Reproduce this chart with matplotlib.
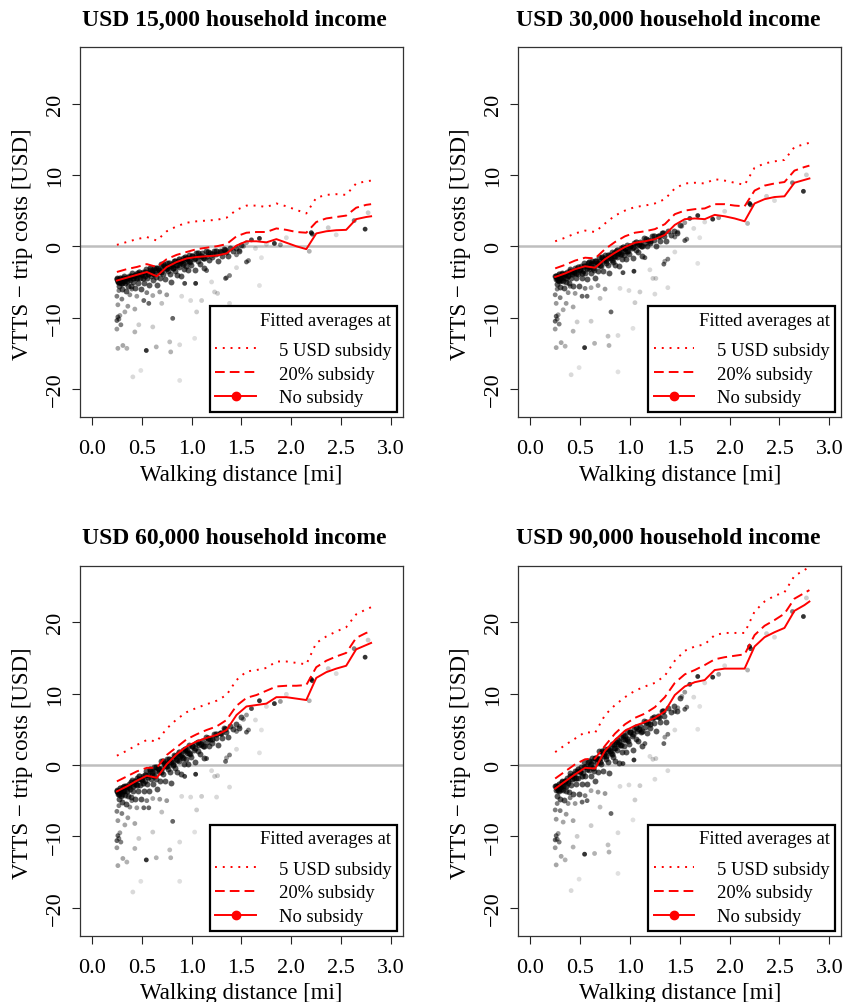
import matplotlib
matplotlib.use("Agg")
import matplotlib.pyplot as plt
from matplotlib.lines import Line2D

plt.rcParams['font.family'] = ['Liberation Serif', 'DejaVu Serif']
plt.rcParams['axes.unicode_minus'] = True

# ---------------- data ----------------
panel_titles = ["USD 15,000 household income", "USD 30,000 household income",
                "USD 60,000 household income", "USD 90,000 household income"]

x_ticks = [0.0, 0.5, 1.0, 1.5, 2.0, 2.5, 3.0]
x_tick_labels = ["0.0", "0.5", "1.0", "1.5", "2.0", "2.5", "3.0"]
y_ticks = [-20, -10, 0, 10, 20]

fit_x = [0.25, 0.35, 0.45, 0.55, 0.65, 0.75, 0.85, 0.95, 1.05, 1.15, 1.25, 1.35, 1.45,
         1.55, 1.65, 1.75, 1.85, 1.95, 2.05, 2.15, 2.25, 2.35, 2.45, 2.55, 2.65, 2.75, 2.80]

# fitted averages: no subsidy / 20% subsidy / 5 USD subsidy
fit_none_15k = [-4.8, -4.4, -4.0, -3.6, -4.2, -2.9, -2.2, -1.7, -1.5, -1.4, -1.3, -1.0, 0.1,
                0.7, 0.7, 0.55, 1.0, 0.5, 0.0, -0.4, 1.8, 2.1, 2.25, 2.3, 3.8, 4.1, 4.2]
fit_pct_15k = [-3.6, -3.2, -2.9, -2.5, -2.9, -1.8, -1.2, -0.8, -0.4, -0.2, 0.0, 0.3, 1.4,
               1.9, 2.0, 2.0, 2.5, 2.3, 2.0, 1.9, 3.4, 3.9, 4.1, 4.3, 5.4, 5.8, 5.9]
fit_usd_15k = [0.2, 0.6, 1.0, 1.3, 0.8, 2.1, 2.8, 3.3, 3.5, 3.6, 3.7, 4.0, 5.1,
               5.7, 5.7, 5.5, 6.0, 5.6, 5.1, 4.6, 6.8, 7.2, 7.3, 7.2, 8.8, 9.1, 9.2]

fit_none_30k = [-4.3, -3.8, -3.2, -2.8, -3.0, -1.8, -0.9, -0.1, 0.5, 0.7, 1.0, 1.6, 3.0,
                3.8, 3.9, 3.8, 4.4, 4.2, 3.9, 3.5, 6.0, 6.6, 6.9, 7.0, 8.9, 9.3, 9.5]
fit_pct_30k = [-3.1, -2.6, -2.0, -1.6, -1.7, -0.4, 0.6, 1.4, 1.9, 2.1, 2.4, 3.1, 4.5,
               5.0, 5.2, 5.3, 5.9, 5.9, 5.7, 5.6, 7.8, 8.5, 8.8, 9.0, 10.6, 11.1, 11.3]
fit_usd_30k = [0.7, 1.2, 1.8, 2.2, 2.0, 3.2, 4.3, 5.0, 5.5, 5.7, 6.0, 6.6, 8.1,
               8.8, 8.9, 8.8, 9.4, 9.2, 8.9, 8.6, 11.0, 11.6, 11.9, 12.1, 13.9, 14.3, 14.5]

fit_none_60k = [-3.7, -3.0, -2.2, -1.5, -1.8, 0.1, 1.5, 2.6, 3.3, 3.8, 4.2, 4.9, 7.0,
                8.2, 8.4, 8.6, 9.5, 9.5, 9.3, 9.1, 12.2, 13.0, 13.5, 13.9, 16.2, 16.8, 17.1]
fit_pct_60k = [-2.3, -1.6, -0.9, -0.4, -0.4, 1.4, 2.5, 3.6, 4.3, 4.9, 5.4, 6.3, 8.3,
               9.4, 9.8, 10.4, 11.0, 11.1, 11.1, 11.2, 13.7, 14.6, 15.2, 15.7, 17.8, 18.5, 18.7]
fit_usd_60k = [1.3, 2.0, 2.8, 3.5, 3.3, 5.1, 6.4, 7.4, 8.0, 8.5, 9.0, 9.8, 11.9,
               13.1, 13.3, 13.6, 14.5, 14.5, 14.3, 14.1, 17.1, 18.0, 18.7, 19.3, 21.1, 21.8, 22.1]

fit_none_90k = [-3.3, -2.3, -1.3, -0.4, -0.5, 2.0, 3.5, 4.8, 5.5, 6.0, 6.6, 7.5, 9.8,
                11.0, 11.6, 11.9, 13.3, 13.5, 13.5, 13.5, 16.6, 17.9, 18.6, 19.2, 21.6, 22.4, 22.9]
fit_pct_90k = [-1.9, -0.9, 0.1, 0.8, 0.9, 2.7, 4.4, 5.7, 6.6, 7.2, 8.1, 9.5, 11.5,
               12.7, 13.3, 14.0, 14.8, 15.1, 15.3, 15.5, 18.2, 19.5, 20.3, 21.2, 23.3, 24.1, 24.5]
fit_usd_90k = [1.8, 2.8, 3.7, 4.6, 4.5, 7.0, 8.4, 9.5, 10.4, 11.0, 11.5, 12.5, 14.6,
               16.0, 16.6, 16.9, 18.2, 18.5, 18.5, 18.5, 21.5, 22.9, 23.7, 24.2, 26.5, 27.3, 27.8]

# individual observations (main cloud)
band_x = [0.25, 0.26, 0.27, 0.28, 0.29, 0.30, 0.31, 0.32, 0.33, 0.34,
          0.35, 0.36, 0.37, 0.38, 0.39, 0.40, 0.41, 0.42, 0.43, 0.44,
          0.45, 0.46, 0.47, 0.48, 0.49, 0.50, 0.51, 0.52, 0.53, 0.54,
          0.55, 0.56, 0.57, 0.58, 0.59, 0.60, 0.61, 0.62, 0.63, 0.64,
          0.65, 0.66, 0.67, 0.68, 0.69, 0.70, 0.71, 0.72, 0.73, 0.74,
          0.75, 0.76, 0.77, 0.78, 0.79, 0.80, 0.81, 0.82, 0.83, 0.84,
          0.85, 0.86, 0.87, 0.88, 0.89, 0.90, 0.91, 0.92, 0.93, 0.94,
          0.95, 0.96, 0.97, 0.98, 0.99, 1.00, 1.02, 1.03, 1.04, 1.06,
          1.07, 1.08, 1.10, 1.11, 1.12, 1.14, 1.15, 1.17, 1.18, 1.20,
          1.22, 1.24, 1.26, 1.28, 1.30, 1.32, 1.34, 1.36, 1.38, 1.41,
          1.44, 1.47, 1.50]
band_y_15k = [-4.5, -5.0, -5.6, -4.6, -5.2, -6.0, -4.7, -4.2, -5.2, -6.2,
              -4.5, -5.5, -4.2, -4.7, -5.6, -3.8, -5.0, -4.2, -5.9, -4.4,
              -3.7, -5.1, -3.9, -4.5, -6.0, -4.0, -3.6, -5.1, -4.2, -3.2,
              -4.5, -3.7, -5.4, -3.3, -4.1, -3.8, -4.7, -3.0, -3.3, -4.3,
              -5.4, -3.1, -3.6, -4.5, -2.5, -3.2, -3.9, -2.7, -4.6, -3.2,
              -2.4, -3.5, -2.7, -3.9, -5.0, -2.5, -3.0, -2.0, -3.5, -2.6,
              -4.0, -2.0, -2.9, -2.2, -4.2, -2.4, -1.6, -3.2, -1.8, -2.7,
              -2.0, -3.3, -1.2, -2.2, -2.6, -1.3, -1.8, -3.3, -1.0, -2.1,
              -1.4, -2.5, -1.0, -1.7, -3.1, -0.7, -1.3, -1.9, -0.9, -1.5,
              -0.6, -1.1, -2.0, -0.7, -1.3, -0.4, -0.8, -1.4, -0.3, -0.7,
              -0.3, -0.7, 0.2]
band_y_30k = [-4.1, -4.6, -5.3, -4.2, -4.9, -5.7, -4.3, -3.7, -4.8, -5.9,
              -3.9, -5.0, -3.6, -4.2, -5.2, -3.2, -4.4, -3.6, -5.5, -3.8,
              -3.0, -4.5, -3.2, -3.9, -5.5, -3.3, -2.8, -4.5, -3.4, -2.4,
              -3.7, -2.8, -4.6, -2.4, -3.2, -2.9, -3.8, -2.0, -2.4, -3.3,
              -4.4, -2.1, -2.6, -3.5, -1.5, -2.1, -2.8, -1.6, -3.5, -2.0,
              -1.2, -2.3, -1.6, -2.6, -3.7, -1.2, -1.7, -0.8, -2.2, -1.3,
              -2.6, -0.7, -1.5, -0.9, -2.8, -1.1, -0.3, -1.8, -0.4, -1.2,
              -0.6, -1.8, 0.2, -0.7, -1.1, 0.1, -0.3, -1.7, 0.5, -0.5,
              0.2, -0.8, 0.6, 0.0, -1.4, 1.1, 0.5, 0.0, 0.9, 0.4,
              1.4, 0.9, 0.0, 1.4, 0.8, 1.9, 1.4, 0.8, 2.1, 1.6,
              2.2, 1.8, 3.0]
band_y_60k = [-3.5, -4.1, -4.8, -3.5, -4.3, -5.2, -3.6, -2.9, -4.2, -5.4,
              -3.1, -4.4, -2.6, -3.4, -4.5, -2.1, -3.6, -2.6, -4.8, -2.7,
              -1.8, -3.6, -2.0, -2.8, -4.8, -2.1, -1.5, -3.6, -2.2, -0.9,
              -2.6, -1.4, -3.7, -0.9, -1.9, -1.4, -2.6, -0.3, -0.8, -2.0,
              -3.4, -0.4, -1.0, -2.2, 0.5, -0.4, -1.3, 0.3, -2.2, -0.2,
              0.8, -0.6, 0.4, -1.0, -2.5, 0.8, 0.2, 1.4, -0.4, 0.8,
              -1.0, 1.5, 0.5, 1.3, -1.2, 1.1, 2.1, 0.2, 1.9, 0.9,
              1.7, 0.1, 2.8, 1.6, 1.1, 2.6, 2.1, 0.4, 3.1, 1.9,
              2.8, 1.5, 3.3, 2.6, 1.0, 3.9, 3.2, 2.6, 3.7, 3.1,
              4.3, 3.8, 2.8, 4.5, 3.8, 5.2, 4.6, 3.9, 5.5, 5.0,
              5.8, 5.2, 6.7]
band_y_90k = [-2.9, -3.5, -4.3, -2.9, -3.7, -4.7, -2.9, -2.2, -3.5, -4.9,
              -2.3, -3.7, -1.8, -2.5, -3.8, -1.1, -2.8, -1.6, -4.1, -1.8,
              -0.8, -2.7, -0.9, -1.8, -4.1, -1.0, -0.3, -2.6, -1.1, 0.4,
              -1.5, -0.2, -2.7, 0.4, -0.7, -0.2, -1.5, 1.0, 0.5, -0.8,
              -2.3, 1.0, 0.3, -1.0, 1.9, 1.0, 0.1, 1.8, -0.9, 1.2,
              2.3, 0.8, 1.9, 0.4, -1.1, 2.4, 1.7, 3.0, 1.1, 2.4,
              0.5, 3.2, 2.1, 3.0, 0.3, 2.8, 3.9, 1.8, 3.7, 2.6,
              3.5, 1.8, 4.7, 3.4, 2.9, 4.6, 4.0, 2.1, 5.1, 3.7,
              4.8, 3.3, 5.4, 4.6, 2.6, 6.1, 5.3, 4.5, 5.9, 5.2,
              6.6, 5.9, 4.7, 6.8, 6.0, 7.6, 6.9, 6.0, 8.0, 7.4,
              8.3, 7.6, 9.4]

# individual observations (densest part just under the fitted line)
core_x = [0.255, 0.265, 0.275, 0.285, 0.295, 0.305, 0.315, 0.325, 0.345, 0.355,
          0.375, 0.395, 0.415, 0.435, 0.455, 0.475, 0.495, 0.515, 0.535, 0.565,
          0.585, 0.605, 0.625, 0.645, 0.675, 0.695, 0.715, 0.735, 0.755, 0.775,
          0.795, 0.815, 0.835, 0.855, 0.875, 0.895, 0.915, 0.935, 0.955, 0.975,
          1.005, 1.035, 1.065, 1.095, 1.125, 1.165, 1.205, 1.245, 1.29, 1.33]
core_y_15k = [-4.6, -4.8, -5.0, -4.4, -4.8, -5.1, -4.4, -4.8, -4.4, -4.9,
              -4.5, -4.1, -4.5, -4.0, -4.5, -3.6, -3.9, -4.4, -3.6, -3.9,
              -3.1, -3.5, -3.9, -3.0, -3.3, -3.6, -2.5, -2.9, -3.1, -2.4,
              -2.8, -3.1, -2.1, -2.6, -1.8, -2.1, -2.5, -1.5, -1.7, -2.0,
              -1.3, -1.6, -1.0, -1.3, -1.6, -0.8, -1.1, -0.6, -0.8, -0.5]
core_y_30k = [-4.2, -4.4, -4.7, -3.9, -4.4, -4.7, -3.9, -4.3, -3.9, -4.4,
              -4.0, -3.5, -3.9, -3.4, -3.8, -2.9, -3.2, -3.7, -2.8, -3.1,
              -2.2, -2.5, -3.0, -2.0, -2.3, -2.6, -1.5, -1.8, -1.9, -1.2,
              -1.5, -1.9, -0.9, -1.3, -0.5, -0.8, -1.1, -0.1, -0.3, -0.6,
              0.1, -0.1, 0.6, 0.3, 0.1, 1.0, 0.8, 1.4, 1.4, 1.8]
core_y_60k = [-3.6, -3.8, -4.1, -3.2, -3.7, -4.0, -3.1, -3.6, -3.0, -3.7,
              -3.1, -2.4, -2.9, -2.3, -2.8, -1.6, -2.0, -2.5, -1.4, -1.7,
              -0.6, -1.0, -1.6, -0.3, -0.6, -1.0, 0.5, 0.1, -0.1, 0.8,
              0.4, 0.0, 1.3, 0.7, 1.8, 1.4, 1.0, 2.3, 2.1, 1.7,
              2.7, 2.4, 3.2, 3.0, 2.7, 3.8, 3.6, 4.4, 4.5, 5.1]
core_y_90k = [-3.0, -3.2, -3.5, -2.6, -3.1, -3.4, -2.4, -2.9, -2.2, -2.9,
              -2.3, -1.5, -2.0, -1.3, -1.8, -0.5, -0.9, -1.5, -0.3, -0.6,
              0.6, 0.2, -0.4, 1.0, 0.8, 0.4, 1.9, 1.6, 1.3, 2.3,
              2.0, 1.6, 3.0, 2.4, 3.5, 3.2, 2.8, 4.2, 4.0, 3.6,
              4.6, 4.3, 5.3, 5.0, 4.7, 6.0, 5.7, 6.7, 6.7, 7.5]

# individual observations (sparse, with observation weights)
extra_x = [0.25, 0.26, 0.27, 0.28, 0.25, 0.26, 0.31, 0.35, 0.43, 0.43,
           0.47, 0.545, 0.41, 0.49, 0.88, 0.645, 0.61, 0.78, 0.79, 0.88,
           0.81, 1.03, 1.05, 0.68, 0.93, 1.04, 0.99, 1.10, 1.34, 1.38,
           1.23, 1.26, 0.61, 0.57, 0.36, 0.40, 0.30, 1.68, 1.38, 1.35,
           1.55, 1.57, 1.25, 0.33, 0.52, 0.70, 1.15, 0.25, 0.26, 0.27,
           0.29, 0.45, 0.55, 0.75, 0.90, 1.20, 1.45, 0.38,
           1.60, 1.68, 1.83, 1.89, 1.55, 1.64, 1.70, 2.20, 2.21, 2.18,
           2.37, 2.45, 2.63, 2.74, 2.77, 1.75, 1.95, 1.48, 1.45, 1.52]
extra_y_15k = [-10.4, -9.9, -10.2, -9.7, -11.6, -14.3, -13.9, -14.3, -12.0, -8.8,
               -11.0, -14.6, -18.3, -17.4, -18.8, -14.1, -11.3, -13.4, -14.8, -13.8,
               -10.1, -12.9, -9.2, -6.4, -5.2, -5.2, -7.6, -7.6, -4.5, -8.0,
               -6.4, -6.6, -6.9, -8.0, -8.4, -6.0, -7.4, -5.5, -4.1, -4.4,
               -2.2, -2.0, -8.7, -9.2, -7.6, -8.0, -3.4, -7.0, -8.2, -6.2,
               -11.0, -7.0, -6.5, -6.8, -7.0, -5.0, -3.0, -6.8,
               0.9, 1.1, 0.4, 0.2, 0.5, -0.3, -1.6, 1.9, 1.7, -0.7,
               2.6, 1.6, 3.6, 2.4, 4.7, 0.3, 1.2, -0.6, -1.2, 0.0]
extra_y_30k = [-10.5, -9.8, -10.2, -9.6, -11.6, -14.2, -13.5, -14.0, -11.9, -8.5,
               -10.6, -14.2, -18.0, -17.0, -17.6, -13.6, -10.5, -12.6, -13.9, -12.5,
               -9.2, -11.5, -7.9, -5.5, -3.7, -3.5, -6.2, -6.4, -2.5, -5.8,
               -4.5, -4.5, -5.8, -7.0, -8.0, -5.6, -7.2, -2.4, -1.8, -2.1,
               0.8, 1.0, -6.7, -8.9, -7.0, -7.3, -1.6, -6.8, -8.0, -6.0,
               -10.9, -6.6, -5.9, -6.0, -5.9, -3.3, -0.8, -6.5,
               3.9, 4.3, 3.8, 4.0, 3.3, 2.5, 1.2, 6.0, 5.8, 3.2,
               7.0, 6.4, 8.9, 7.7, 10.0, 3.4, 4.9, 2.0, 1.3, 2.8]
extra_y_60k = [-10.6, -9.9, -10.3, -9.5, -11.6, -14.1, -13.1, -13.6, -11.7, -8.2,
               -10.3, -13.3, -17.8, -16.3, -16.3, -13.0, -9.4, -11.9, -13.0, -10.8,
               -7.9, -9.4, -6.3, -4.8, -1.6, -1.3, -4.5, -4.4, 0.5, -3.1,
               -1.6, -1.5, -4.7, -6.0, -7.4, -5.0, -6.8, 1.7, 1.4, 1.0,
               4.6, 4.9, -4.5, -8.4, -6.0, -6.6, 0.9, -6.5, -7.8, -5.7,
               -10.8, -6.0, -5.0, -5.0, -4.4, -0.8, 2.2, -5.9,
               7.9, 9.0, 8.6, 8.9, 7.0, 6.3, 4.9, 12.0, 11.8, 9.0,
               13.5, 12.8, 16.3, 15.1, 17.5, 8.2, 9.9, 5.4, 4.7, 6.4]
extra_y_90k = [-10.5, -9.9, -10.4, -9.6, -11.6, -14.0, -12.8, -13.3, -11.5, -7.8,
               -10.0, -12.5, -17.6, -16.0, -15.2, -12.4, -8.5, -11.2, -12.2, -9.5,
               -6.8, -7.7, -4.9, -3.8, 0.2, 0.7, -2.8, -2.9, 3.0, -0.8,
               0.8, 0.9, -3.6, -5.0, -6.9, -4.6, -6.4, 5.0, 4.3, 3.9,
               7.8, 8.1, -2.0, -8.0, -5.2, -5.9, 3.0, -6.3, -7.6, -5.4,
               -10.8, -5.4, -4.3, -4.0, -3.0, 1.2, 4.9, -5.4,
               11.3, 12.4, 12.3, 12.7, 10.2, 9.5, 8.2, 16.6, 16.3, 13.3,
               18.4, 17.9, 21.5, 20.8, 23.4, 11.5, 13.9, 8.0, 7.5, 9.6]
extra_weight = [0.6, 0.6, 0.5, 0.4, 0.4, 0.35, 0.35, 0.3, 0.3, 0.35,
                0.2, 0.8, 0.15, 0.12, 0.12, 0.3, 0.2, 0.25, 0.3, 0.15,
                0.6, 0.12, 0.2, 0.4, 0.7, 0.8, 0.15, 0.2, 0.6, 0.15,
                0.2, 0.2, 0.35, 0.6, 0.4, 0.5, 0.5, 0.12, 0.5, 0.4,
                0.6, 0.5, 0.15, 0.35, 0.6, 0.25, 0.6, 0.5, 0.4, 0.5,
                0.5, 0.4, 0.5, 0.4, 0.15, 0.15, 0.15, 0.45,
                0.7, 0.8, 0.8, 0.4, 0.4, 0.15, 0.12, 0.8, 0.7, 0.3,
                0.2, 0.15, 0.5, 0.8, 0.2, 0.15, 0.15, 0.4, 0.5, 0.4]

legend_labels = ["5 USD subsidy", "20% subsidy", "No subsidy"]

panels = [
    (panel_titles[0], band_y_15k, core_y_15k, extra_y_15k, fit_none_15k, fit_pct_15k, fit_usd_15k),
    (panel_titles[1], band_y_30k, core_y_30k, extra_y_30k, fit_none_30k, fit_pct_30k, fit_usd_30k),
    (panel_titles[2], band_y_60k, core_y_60k, extra_y_60k, fit_none_60k, fit_pct_60k, fit_usd_60k),
    (panel_titles[3], band_y_90k, core_y_90k, extra_y_90k, fit_none_90k, fit_pct_90k, fit_usd_90k),
]

# ---------------- drawing ----------------
W, H = 845, 1003
fig = plt.figure(figsize=(W / 100, H / 100), dpi=100)

ax_w = 323 / W
ax_h = 370 / H
lefts = [80 / W, 518.3 / W]
bottoms = [1 - 418 / H, 1 - 936.7 / H]
title_x = [234.7 / W, 668.3 / W]
title_y = [1 - 20.7 / H, 1 - 538.3 / H]

DOT = (0, (1, 3))
DASH = (0, (5, 2.6))
RED = "#FF0000"
LW = 1.4

for i, (title, band_y, core_y, extra_y, f_none, f_pct, f_usd) in enumerate(panels):
    r, c = divmod(i, 2)
    ax = fig.add_axes([lefts[c], bottoms[r], ax_w, ax_h])

    ax.axhline(0, color="#BEBEBE", lw=1.8, zorder=1)
    ax.scatter(band_x, band_y, s=18, color="black", alpha=0.65, linewidths=0, zorder=2)
    ax.scatter(core_x, core_y, s=20, color="black", alpha=0.75, linewidths=0, zorder=2)
    extra_colors = [(0, 0, 0, w) for w in extra_weight]
    ax.scatter(extra_x, extra_y, s=12, c=extra_colors, linewidths=0, zorder=2)

    ax.plot(fit_x, f_usd, color=RED, lw=LW, linestyle=DOT, zorder=3)
    ax.plot(fit_x, f_pct, color=RED, lw=LW, linestyle=DASH, zorder=3)
    ax.plot(fit_x, f_none, color=RED, lw=LW, linestyle="-", zorder=3)

    ax.set_xlim(-0.12, 3.12)
    ax.set_ylim(-23.92, 27.92)
    ax.set_xticks(x_ticks)
    ax.set_xticklabels(x_tick_labels)
    ax.set_yticks(y_ticks)
    ax.tick_params(direction="out", length=5.8, width=0.8, labelsize=16, colors="#222222",
                   labelcolor="black")
    ax.tick_params(axis="x", pad=10)
    ax.tick_params(axis="y", pad=5, labelrotation=90)
    for lab in ax.get_yticklabels():
        lab.set_va("center")
    for sp in ax.spines.values():
        sp.set_linewidth(0.9)
        sp.set_color("#333333")

    ax.set_xlabel("Walking distance [mi]", fontsize=16.5)
    ax.set_ylabel("VTTS \u2212 trip costs [USD]", fontsize=16.5)
    ax.xaxis.set_label_coords(0.5, -0.126)
    ax.yaxis.set_label_coords(-0.145, 0.47)

    handles = [Line2D([], [], color=RED, lw=LW, linestyle=DOT),
               Line2D([], [], color=RED, lw=LW, linestyle=DASH),
               Line2D([], [], color=RED, lw=LW, linestyle="-", marker="o", markersize=6)]
    leg = ax.legend(handles, legend_labels, title="Fitted averages at",
                    loc="lower right", bbox_to_anchor=(0.981, 0.0135), borderaxespad=0,
                    fontsize=13.4, title_fontsize=13.4, frameon=True, fancybox=False,
                    edgecolor="black", framealpha=1, handlelength=2.2, handletextpad=1.2,
                    labelspacing=0.36, borderpad=0.3, alignment="right")
    leg._legend_box.sep = 9.5
    leg.get_frame().set_linewidth(1.6)

    fig.text(title_x[c], title_y[r], title, ha="center", va="center",
             fontsize=17, fontweight="bold")

fig.savefig("out.png", dpi=100)
